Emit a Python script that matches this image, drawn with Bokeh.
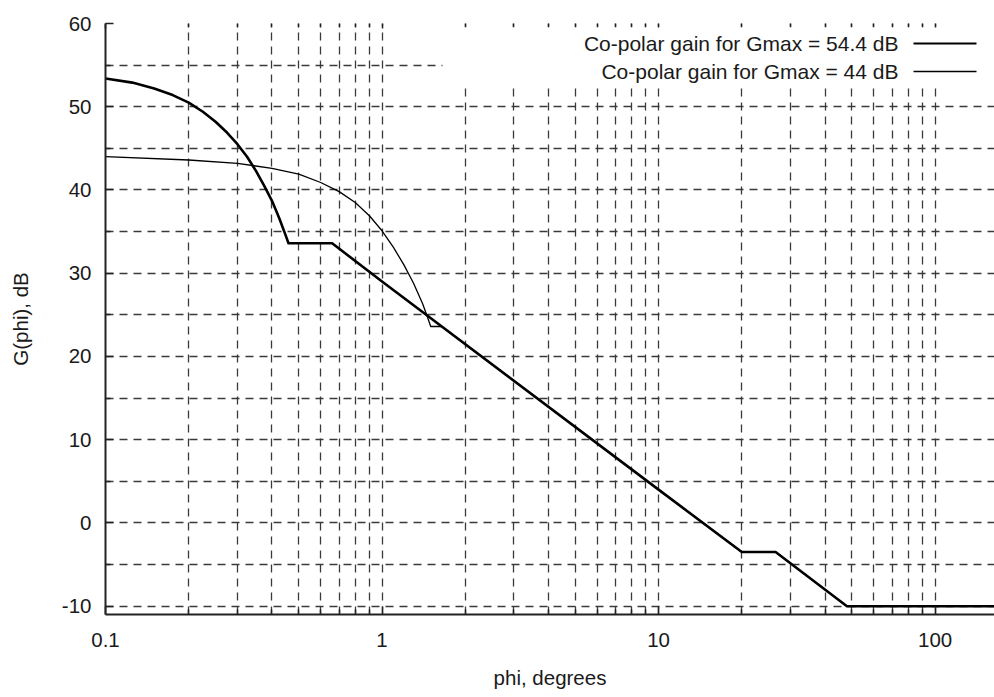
from bokeh.plotting import figure
from bokeh.models import (FixedTicker, LogAxis, BoxAnnotation, Label,
                          CustomJSTickFormatter, Range1d)
from bokeh.embed import file_html
from bokeh.resources import INLINE

# ---- data ----
phi_54 = [0.1, 0.125, 0.15, 0.175, 0.2, 0.225, 0.25, 0.275, 0.3, 0.325, 0.35,
          0.375, 0.4, 0.425, 0.45, 0.459, 0.66, 1.0, 10.0, 20.0, 26.5, 48.0, 180.0]
gain_54 = [53.4, 52.9, 52.2, 51.4, 50.5, 49.4, 48.2, 46.9, 45.5, 44.0, 42.3,
           40.5, 38.7, 36.6, 34.4, 33.6, 33.6, 29.0, 4.0, -3.5, -3.5, -10.0, -10.0]

phi_44 = [0.1, 0.2, 0.3, 0.4, 0.5, 0.6, 0.7, 0.8, 0.9, 1.0, 1.1, 1.2, 1.3,
          1.4, 1.45, 1.5, 1.644, 10.0, 20.0, 26.5, 48.0, 180.0]
gain_44 = [44.0, 43.6, 43.2, 42.6, 41.9, 40.9, 39.8, 38.5, 36.9, 35.1, 33.1,
           31.0, 28.8, 26.4, 25.0, 23.6, 23.6, 4.0, -3.5, -3.5, -10.0, -10.0]

series_labels = ["Co-polar gain for Gmax = 54.4 dB", "Co-polar gain for Gmax = 44 dB"]

x_major = [0.1, 1, 10, 100]
x_minor = [0.2, 0.3, 0.4, 0.5, 0.6, 0.7, 0.8, 0.9,
           2, 3, 4, 5, 6, 7, 8, 9,
           20, 30, 40, 50, 60, 70, 80, 90]
y_major = [-10, 0, 10, 20, 30, 40, 50, 60]
y_minor = [-5, 5, 15, 25, 35, 45, 55]

x_title = "phi, degrees"
y_title = "G(phi), dB"

# ---- styling ----
FONT = "Liberation Sans"
FS = "20.5px"
TXT = "#1a1a1a"
GRID = "#3a3a3a"

p = figure(width=994, height=697, x_axis_type="log",
           x_range=Range1d(0.1, 164), y_range=Range1d(-11, 60),
           output_backend="svg", toolbar_location=None,
           min_border_left=105, min_border_right=0,
           min_border_top=23, min_border_bottom=83)
p.outline_line_color = None
p.background_fill_color = "white"
p.border_fill_color = "white"

xt = FixedTicker(ticks=x_major, minor_ticks=x_minor)
yt = FixedTicker(ticks=y_major, minor_ticks=y_minor)

xa = p.xaxis[0]
ya = p.yaxis[0]
xa.ticker = xt
ya.ticker = yt
p.xgrid.ticker = xt
p.ygrid.ticker = yt

for g in (p.xgrid[0], p.ygrid[0]):
    g.grid_line_color = GRID
    g.grid_line_dash = "8 6"
    g.grid_line_width = 1.3
    g.minor_grid_line_color = GRID
    g.minor_grid_line_dash = "8 6"
    g.minor_grid_line_width = 1.3

for ax in (xa, ya):
    ax.axis_line_color = "#222222"
    ax.axis_line_width = 2
    ax.major_tick_line_color = "#222222"
    ax.minor_tick_line_color = "#222222"
    ax.major_tick_line_width = 1.5
    ax.minor_tick_line_width = 1.5
    ax.major_tick_out = 0
    ax.minor_tick_out = 0
    ax.major_tick_in = 8
    ax.minor_tick_in = 5
    ax.major_label_text_font = FONT
    ax.major_label_text_font_size = FS
    ax.major_label_text_color = TXT
    ax.axis_label_text_font = FONT
    ax.axis_label_text_font_size = FS
    ax.axis_label_text_font_style = "normal"
    ax.axis_label_text_color = TXT
    ax.formatter = CustomJSTickFormatter(code="return tick.toString();")

xa.major_label_standoff = 18
xa.axis_label = x_title
xa.axis_label_standoff = 16

ya.major_label_standoff = 14
ya.axis_label = y_title
ya.axis_label_standoff = 27

# mirror ticks on the top border
top = LogAxis(ticker=xt, formatter=CustomJSTickFormatter(code="return '';"),
              axis_line_color=None, major_tick_in=5, major_tick_out=0,
              minor_tick_in=4, minor_tick_out=0, major_label_standoff=0,
              major_tick_line_color="#222222", minor_tick_line_color="#222222",
              major_tick_line_width=1.5, minor_tick_line_width=1.5)
p.add_layout(top, "above")

# curves
p.line(phi_54, gain_54, line_color="black", line_width=2.6, line_join="round")
p.line(phi_44, gain_44, line_color="black", line_width=1.3, line_join="round")

# legend (label on the left, sample on the right), opaque white area
p.add_layout(BoxAnnotation(left=442, right=994, top=27, bottom=85,
                           left_units="canvas", right_units="canvas",
                           top_units="canvas", bottom_units="canvas",
                           fill_color="white", fill_alpha=1.0, line_color=None))
rows_y = [43.0, 71.0]
widths = [2.2, 1.4]
for lab, yy, w in zip(series_labels, rows_y, widths):
    p.add_layout(Label(x=898, y=yy, x_units="canvas", y_units="canvas", text=lab,
                       text_align="right", text_baseline="middle",
                       text_font=FONT, text_font_size="21px", text_color=TXT))
    p.add_layout(BoxAnnotation(left=913, right=976, top=yy - w / 2, bottom=yy + w / 2,
                               left_units="canvas", right_units="canvas",
                               top_units="canvas", bottom_units="canvas",
                               fill_color="black", fill_alpha=1.0, line_color=None))

open("out.html", "w").write(file_html(p, INLINE))
